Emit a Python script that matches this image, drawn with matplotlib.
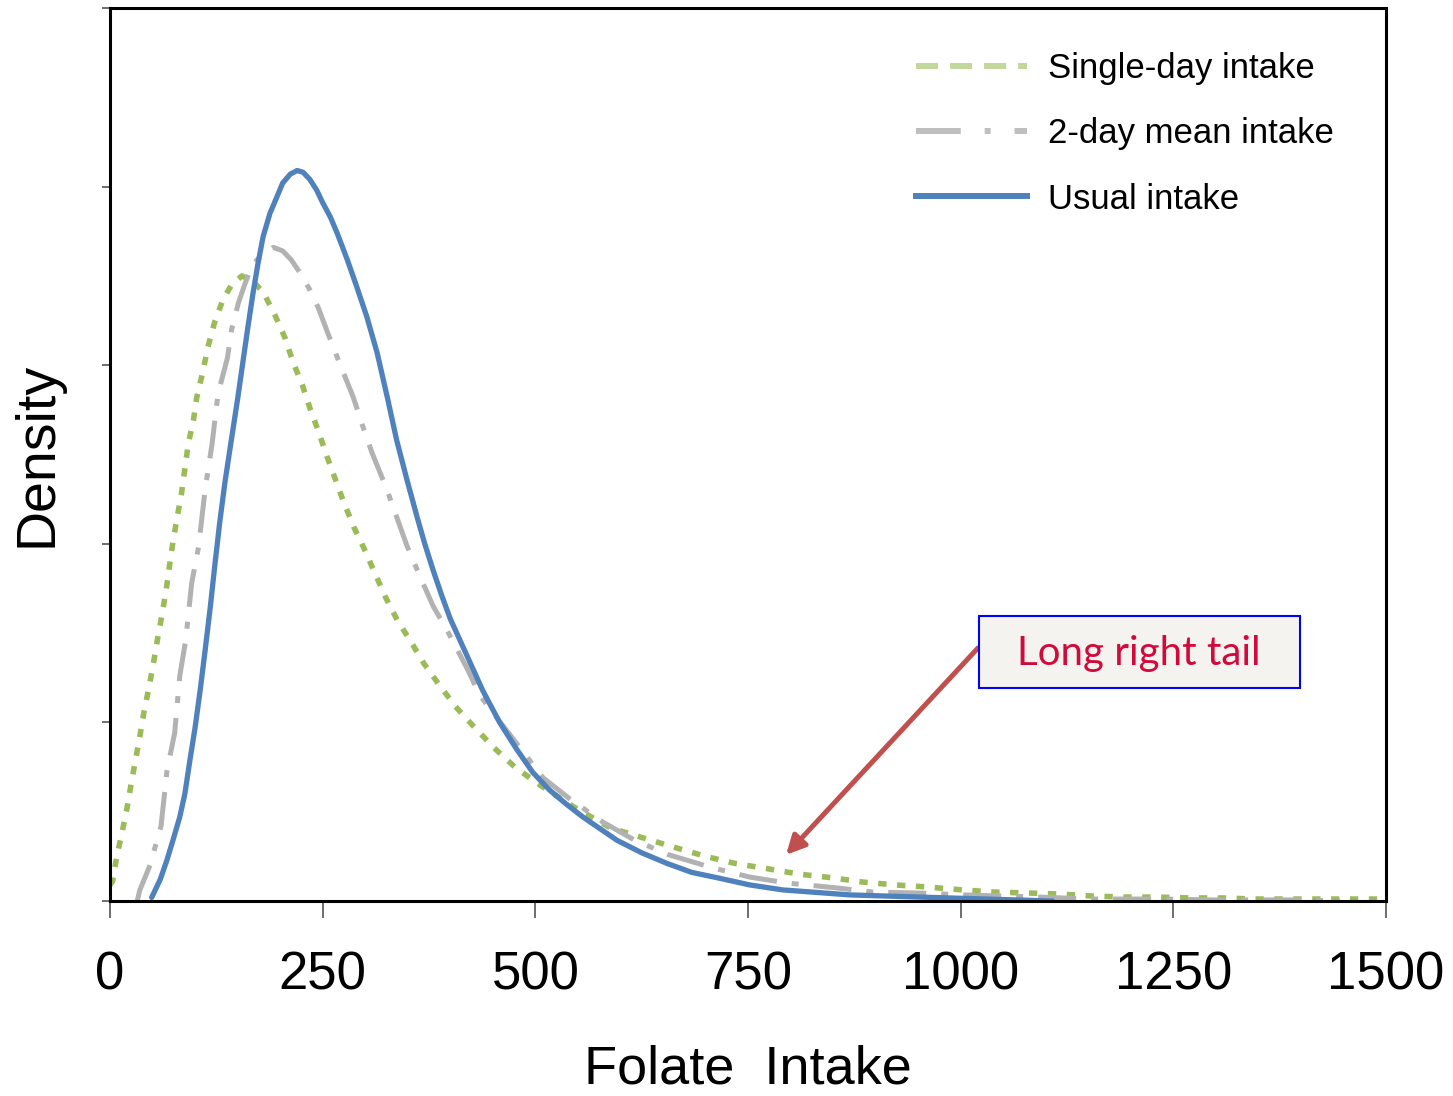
import matplotlib.pyplot as plt
from matplotlib.lines import Line2D
from matplotlib.patches import Rectangle

# density values are in units of 1e-3 (axis has no tick labels anyway)
usual_x = [49, 59, 67, 74, 82, 88, 94, 100, 106, 112, 118, 123, 129, 135, 141, 150, 156, 162, 168, 174,
           180, 188, 196, 203, 212, 220, 227, 235, 243, 250, 259, 267, 279, 290, 302, 314, 326, 337,
           349, 361, 370, 380, 390, 400, 420, 438, 458, 478, 497, 517, 537, 556, 596, 625, 655, 684,
           714, 752, 791, 870, 987, 1108]
usual_y = [0.02, 0.12, 0.23, 0.34, 0.47, 0.60, 0.79, 0.97, 1.18, 1.41, 1.65, 1.87, 2.12, 2.34, 2.53,
           2.81, 3.01, 3.21, 3.40, 3.57, 3.72, 3.85, 3.94, 4.02, 4.07, 4.09, 4.08, 4.04, 3.98, 3.91,
           3.83, 3.74, 3.59, 3.44, 3.27, 3.07, 2.82, 2.58, 2.36, 2.15, 2.00, 1.85, 1.71, 1.58, 1.37,
           1.18, 1.00, 0.85, 0.72, 0.62, 0.54, 0.47, 0.34, 0.27, 0.21, 0.16, 0.13, 0.09, 0.062, 0.034,
           0.017, 0.0]

twoday_x = [32, 35, 47, 60, 67, 76, 82, 89, 96, 104, 112, 120, 127, 138, 143, 151, 159, 167, 179, 192,
            203, 213, 223, 234, 245, 256, 270, 286, 297, 308, 325, 337, 349, 366, 380, 398, 420, 435,
            459, 509, 541, 580, 617, 656, 709, 752, 797, 855, 897, 949, 1003, 1093, 1152, 1238, 1297,
            1387, 1446]
twoday_y = [0.0, 0.06, 0.20, 0.42, 0.73, 0.94, 1.26, 1.46, 1.78, 1.98, 2.31, 2.56, 2.84, 3.04, 3.20,
            3.35, 3.46, 3.56, 3.62, 3.66, 3.64, 3.59, 3.52, 3.43, 3.32, 3.18, 3.01, 2.82, 2.66, 2.51,
            2.31, 2.15, 1.99, 1.80, 1.65, 1.50, 1.30, 1.15, 1.00, 0.69, 0.57, 0.44, 0.34, 0.26, 0.185,
            0.134, 0.10, 0.073, 0.050, 0.045, 0.034, 0.022, 0.011, 0.011, 0.006, 0.006, 0.0]

single_x = [0, 3, 8, 14, 20, 25, 30, 35, 40, 46, 51, 56, 61, 66, 70, 74, 79, 84, 88, 92, 98, 102, 109,
            115, 123, 133, 143, 155, 168, 180, 193, 206, 215, 226, 235, 245, 255, 265, 275, 287, 299,
            311, 324, 338, 354, 369, 387, 406, 427, 451, 476, 502, 544, 588, 629, 664, 700, 735, 774,
            811, 849, 885, 923, 962, 1002, 1040, 1078, 1117, 1154, 1193, 1231, 1270, 1308, 1346, 1384,
            1422, 1461, 1500]
single_y = [0.09, 0.11, 0.25, 0.38, 0.52, 0.66, 0.79, 0.92, 1.06, 1.20, 1.33, 1.47, 1.60, 1.74, 1.88,
            2.01, 2.15, 2.28, 2.42, 2.56, 2.69, 2.82, 2.96, 3.10, 3.24, 3.37, 3.45, 3.50, 3.47, 3.41,
            3.29, 3.15, 3.02, 2.89, 2.76, 2.63, 2.49, 2.36, 2.23, 2.09, 1.97, 1.84, 1.70, 1.57, 1.45,
            1.33, 1.21, 1.09, 0.98, 0.86, 0.75, 0.66, 0.53, 0.41, 0.35, 0.30, 0.25, 0.21, 0.18, 0.15,
            0.13, 0.106, 0.090, 0.078, 0.062, 0.050, 0.045, 0.039, 0.028, 0.022, 0.022, 0.017, 0.017,
            0.011, 0.011, 0.011, 0.011, 0.011]

x_ticks = [0, 250, 500, 750, 1000, 1250, 1500]
y_ticks = [0, 1, 2, 3, 4, 5]
labels = ["Single-day intake", "2-day mean intake", "Usual intake"]

green = "#9BBB59"
gray = "#B2B2B2"
blue = "#4F81BD"

plt.rcParams['font.family'] = ['Liberation Sans', 'DejaVu Sans']

fig = plt.figure(figsize=(14.53, 10.96), dpi=100)
ax = fig.add_axes([110 / 1453, 1 - 901 / 1096, 1276 / 1453, 893 / 1096])

ax.plot(single_x, single_y, color=green, lw=4.0, ls=(0, (1.5, 1.9)))
ax.plot(twoday_x, twoday_y, color=gray, lw=3.6, ls=(0, (7.6, 3.0, 1.4, 3.0)))
ax.plot(usual_x, usual_y, color=blue, lw=3.8, solid_capstyle='round', solid_joinstyle='round')

ax.set_xlim(0, 1500)
ax.set_ylim(0, 5)
ax.set_xticks(x_ticks)
ax.set_yticks(y_ticks)
ax.set_yticklabels([])
ax.tick_params(axis='x', length=12, width=1.2, color='#555555', direction='out', labelsize=38, pad=24)
ax.tick_params(axis='y', length=6, width=1.2, color='#555555', direction='out')
for s in ax.spines.values():
    s.set_linewidth(2.2)
    s.set_color('black')

ax.set_xlabel("Folate  Intake", fontsize=39, labelpad=31)
ax.set_ylabel("Density", fontsize=40, labelpad=24)

# legend with lighter handles like the original
handles = [Line2D([], [], color="#C3D69B", lw=4.3, ls=(0, (3.7, 2.0))),
           Line2D([], [], color="#BFBFBF", lw=4.3, ls=(0, (7.5, 4.0, 1.0, 4.0))),
           Line2D([], [], color=blue, lw=4.3)]
ax.legend(handles, labels, loc='upper left', bbox_to_anchor=(916 / 1453, 1 - 52 / 1096),
          bbox_transform=fig.transFigure, frameon=False, fontsize=25, handlelength=3.2,
          handletextpad=0.6, labelspacing=0.93, borderpad=0, borderaxespad=0)

# annotation box + arrow
ax.add_patch(Rectangle((1021.6, 1.193), 377.3, 0.403, facecolor="#F4F3EF", edgecolor="#0000FF",
                       lw=1.5, zorder=4))
ax.text(1209.6, 1.383, "Long right tail", fontsize=29, family=['Lato', 'DejaVu Sans'],
        color="#D20A3C", ha='center', va='center', zorder=5)
ax.annotate("", xy=(794.7, 0.258), xytext=(1020.4, 1.417),
            arrowprops=dict(arrowstyle='-|>', lw=3.6, color="#C0504D", mutation_scale=28,
                            shrinkA=0, shrinkB=0))

plt.savefig("out.png", dpi=100)
